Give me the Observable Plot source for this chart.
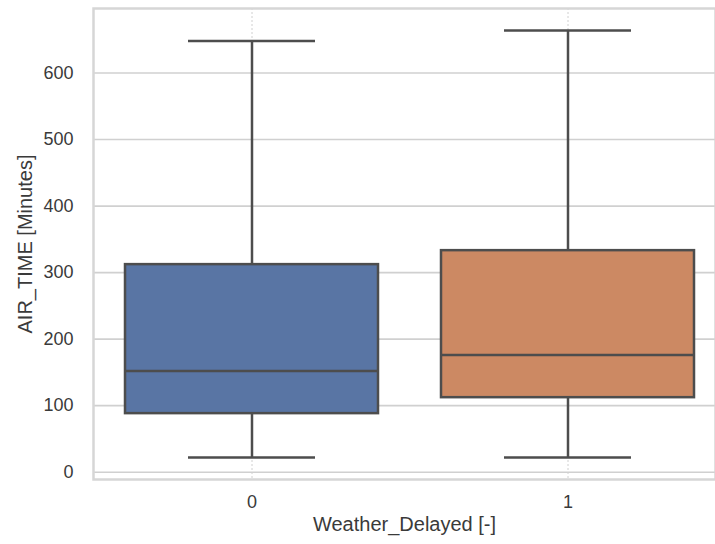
<!DOCTYPE html>
<html>
<head>
<meta charset="utf-8">
<script src="https://cdn.jsdelivr.net/npm/d3@7"></script>
<script src="https://cdn.jsdelivr.net/npm/@observablehq/plot@0.6"></script>
<style>
  html, body { margin: 0; padding: 0; background: #fff; overflow: hidden; }
  #chart svg { display: block; }
</style>
</head>
<body>
<div id="chart"></div>
<script>
// Data
const categories = ["0", "1"];
const whiskerLow = [22, 22];
const q1 = [88, 112];
const median = [152, 176];
const q3 = [312, 333];
const whiskerHigh = [648, 664];
const boxColors = ["#5975a4", "#cc8963"];
const yTicks = [0, 100, 200, 300, 400, 500, 600];
const xLabel = "Weather_Delayed [-]";
const yLabel = "AIR_TIME [Minutes]";

const rows = categories.map((c, i) => ({
  cat: c, lo: whiskerLow[i], q1: q1[i], med: median[i], q3: q3[i], hi: whiskerHigh[i], color: boxColors[i]
}));

const lineColor = "#4d4d4d";
const gridColor = "#d0d0d0";
const textColor = "#3a3a3a";
const font = "'Liberation Sans', Arial, sans-serif";

const chart = Plot.plot({
  width: 715,
  height: 544,
  marginTop: 8,
  marginBottom: 65,
  marginLeft: 93,
  marginRight: 0,
  style: { fontFamily: font, fontSize: "18px", color: textColor, background: "#fff" },
  x: { domain: categories, range: [93, 725], paddingInner: 0.2, paddingOuter: 0.1 },
  y: { domain: [-11, 697] },
  marks: [
    Plot.gridY(yTicks, { stroke: gridColor, strokeOpacity: 1, strokeWidth: 1.6 }),
    Plot.ruleX(categories, { x: d => d, stroke: gridColor, strokeOpacity: 1, strokeWidth: 1, strokeDasharray: "2,2" }),
    Plot.frame({ stroke: "#d6d6d6", strokeWidth: 2.5 }),
    Plot.ruleX(rows, { x: "cat", y1: "lo", y2: "q1", stroke: lineColor, strokeWidth: 2.5 }),
    Plot.ruleX(rows, { x: "cat", y1: "q3", y2: "hi", stroke: lineColor, strokeWidth: 2.5 }),
    Plot.tickY(rows, { x: "cat", y: "lo", stroke: lineColor, strokeWidth: 2.5, insetLeft: 63, insetRight: 63 }),
    Plot.tickY(rows, { x: "cat", y: "hi", stroke: lineColor, strokeWidth: 2.5, insetLeft: 63, insetRight: 63 }),
    Plot.barY(rows, { x: "cat", y1: "q1", y2: "q3", fill: "color", stroke: lineColor, strokeWidth: 2.5 }),
    Plot.tickY(rows, { x: "cat", y: "med", stroke: lineColor, strokeWidth: 2.5 }),
    Plot.axisY(yTicks, { tickSize: 0, tickPadding: 20, label: null, fontSize: 18, fill: textColor }),
    Plot.axisX(categories, { tickSize: 0, tickPadding: 16, label: null, fontSize: 18, fill: textColor }),
    Plot.text([yLabel], { text: d => d, frameAnchor: "left", dx: -68, rotate: -90, textAnchor: "middle", fontSize: 20, fill: textColor }),
    Plot.text([xLabel], { text: d => d, frameAnchor: "bottom", dy: 51, textAnchor: "middle", fontSize: 20, fill: textColor })
  ]
});
document.getElementById("chart").appendChild(chart);
</script>
</body>
</html>
